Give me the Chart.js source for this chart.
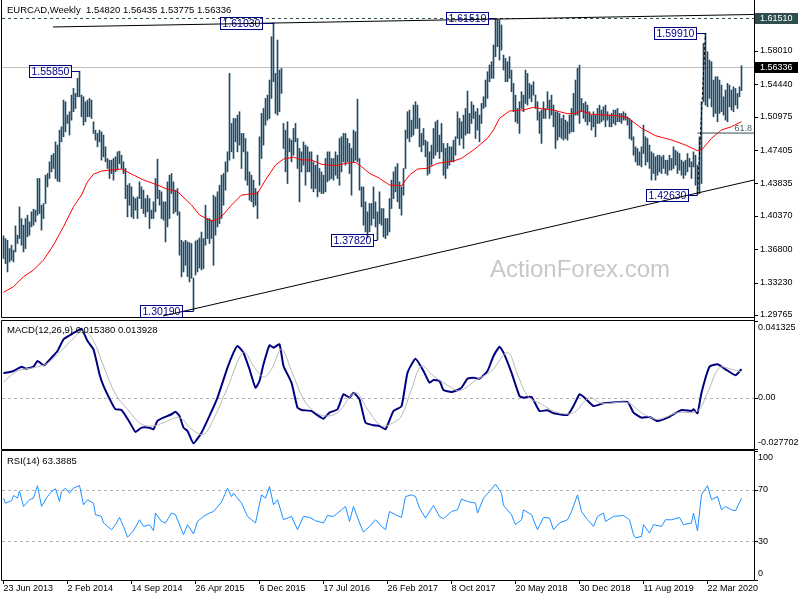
<!DOCTYPE html>
<html><head><meta charset="utf-8">
<script src="https://cdn.jsdelivr.net/npm/chart.js@4/dist/chart.umd.min.js"></script>
<style>
html,body{margin:0;padding:0;background:#fff;}
#wrap{position:relative;width:800px;height:600px;overflow:hidden;background:#fff;}
canvas{position:absolute;left:0;}
</style></head><body>
<div id="wrap">
<canvas id="cMain" width="800" height="320" style="top:0px;width:800px;height:320px"></canvas>
<canvas id="cMacd" width="800" height="133" style="top:318px;width:800px;height:133px"></canvas>
<canvas id="cRsi" width="800" height="150" style="top:450px;width:800px;height:150px"></canvas>
</div>
<script>
// ---------------- DATA ----------------
const symbolTitle = 'EURCAD,Weekly';
const lastOHLC = [1.54820, 1.56435, 1.53775, 1.56336];
const periodHigh = 1.61510;
const firstWeek = 0;
const barHigh = [1.3823,1.3794,1.3776,1.3687,1.3723,1.3669,1.3930,1.3830,1.4133,1.4008,
1.3937,1.4008,1.4044,1.3973,1.4080,1.4108,1.4098,1.4437,1.4437,1.4151,
1.4169,1.4472,1.4490,1.4615,1.4686,1.4704,1.4829,1.4794,1.4954,1.4990,
1.5276,1.5258,1.5115,1.5151,1.5329,1.5401,1.5347,1.5508,1.5585,1.5329,
1.5311,1.5258,1.5276,1.5294,1.5276,1.5044,1.4954,1.4919,1.4954,1.4936,
1.4901,1.4776,1.4651,1.4633,1.4633,1.4651,1.4669,1.4722,1.4729,1.4686,
1.4615,1.4544,1.4365,1.4383,1.4347,1.4240,1.4222,1.4240,1.4401,1.4347,
1.4312,1.4222,1.4258,1.4222,1.4098,1.4187,1.4437,1.4644,1.4312,1.4294,
1.4187,1.4187,1.4401,1.4472,1.4490,1.4401,1.4312,1.4330,1.4080,1.3776,
1.3758,1.3776,1.3760,1.3750,1.3741,1.3372,1.3768,1.3779,1.3800,1.3864,
1.3794,1.4151,1.4008,1.4008,1.3991,1.4258,1.4240,1.4294,1.4365,1.4472,
1.4490,1.4615,1.4722,1.5561,1.5026,1.5079,1.5079,1.5115,1.5151,1.4919,
1.4919,1.4865,1.4722,1.4508,1.4472,1.4419,1.4330,1.4294,1.4883,1.5133,
1.5186,1.5294,1.5329,1.5490,1.5954,1.6103,1.5561,1.5918,1.5597,1.5615,
1.5026,1.4954,1.5044,1.4865,1.4847,1.4972,1.5026,1.4865,1.4758,1.4722,
1.4829,1.4794,1.4776,1.4722,1.4722,1.4615,1.4579,1.4686,1.4544,1.4508,
1.4472,1.4651,1.4722,1.4722,1.4651,1.4651,1.4722,1.4686,1.4865,1.4883,
1.4919,1.4919,1.4865,1.4812,1.4758,1.4954,1.4936,1.5286,1.4651,1.4347,
1.4347,1.4187,1.4080,1.4169,1.4169,1.4347,1.4187,1.4080,1.4294,1.4115,
1.4115,1.4008,1.4008,1.4222,1.4419,1.4508,1.4561,1.4597,1.4401,1.4347,
1.4544,1.4954,1.5151,1.5169,1.5061,1.5222,1.5258,1.5222,1.5079,1.4919,
1.4972,1.4847,1.4829,1.4722,1.4794,1.4972,1.5044,1.5061,1.4901,1.5026,
1.4812,1.4758,1.4812,1.4776,1.4776,1.4847,1.4883,1.5151,1.5079,1.5044,
1.5115,1.5186,1.5372,1.5133,1.5258,1.5222,1.5151,1.5186,1.5115,1.5240,
1.5311,1.5490,1.5579,1.5651,1.5686,1.5865,1.6151,1.6140,1.6133,1.6079,
1.5758,1.5722,1.5686,1.5740,1.5597,1.5454,1.5329,1.5186,1.5258,1.5365,
1.5329,1.5597,1.5561,1.5454,1.5436,1.5472,1.5329,1.5258,1.5151,1.5169,
1.5258,1.5186,1.5365,1.5276,1.5329,1.5222,1.5151,1.5151,1.5133,1.5079,
1.5115,1.5061,1.5044,1.5115,1.5186,1.5347,1.5490,1.5615,1.5650,1.5294,
1.5240,1.5258,1.5222,1.5151,1.5115,1.5151,1.5115,1.5186,1.5222,1.5169,
1.5204,1.5222,1.5151,1.5115,1.5133,1.5169,1.5169,1.5186,1.5133,1.5133,
1.5151,1.5133,1.5097,1.5079,1.5061,1.4883,1.4776,1.4758,1.4722,1.4776,
1.5008,1.4883,1.4865,1.4794,1.4722,1.4704,1.4669,1.4686,1.4686,1.4669,
1.4686,1.4633,1.4633,1.4686,1.4651,1.4776,1.4740,1.4722,1.4704,1.4633,
1.4615,1.4633,1.4704,1.4651,1.4615,1.4722,1.4686,1.4579,1.4883,1.5258,
1.5883,1.5991,1.5793,1.5704,1.5686,1.5490,1.5526,1.5526,1.5490,1.5436,
1.5311,1.5383,1.5454,1.5436,1.5383,1.5418,1.5401,1.5347,1.5418,1.56435];
const barLow = [1.3580,1.3526,1.3437,1.3544,1.3562,1.3544,1.3651,1.3741,1.3794,1.3723,
1.3651,1.3687,1.3812,1.3830,1.3919,1.3937,1.3973,1.4044,1.4062,1.3884,
1.4008,1.4169,1.4347,1.4437,1.4508,1.4544,1.4437,1.4408,1.4401,1.4829,
1.4883,1.4936,1.5026,1.4901,1.5061,1.5151,1.5186,1.5311,1.5311,1.5097,
1.5008,1.5044,1.5097,1.5097,1.5079,1.4919,1.4847,1.4776,1.4829,1.4633,
1.4669,1.4615,1.4544,1.4437,1.4490,1.4419,1.4508,1.4526,1.4597,1.4544,
1.4490,1.4222,1.4026,1.4151,1.4026,1.4008,1.4098,1.4008,1.4222,1.4115,
1.4062,1.4026,1.4080,1.3901,1.4008,1.4008,1.4080,1.4222,1.4151,1.4008,
1.3991,1.3758,1.3919,1.4008,1.4276,1.4062,1.4080,1.4044,1.3616,1.3384,
1.3437,1.3508,1.3386,1.3330,1.3370,1.3019,1.3404,1.3437,1.3479,1.3458,
1.3473,1.3723,1.3794,1.3741,1.3794,1.3508,1.3830,1.3919,1.3955,1.4008,
1.4151,1.4312,1.4508,1.4633,1.4722,1.4651,1.4829,1.4722,1.4794,1.4544,
1.4722,1.4419,1.4365,1.4205,1.4187,1.4133,1.4151,1.4008,1.4365,1.4651,
1.4794,1.5008,1.5061,1.5079,1.5294,1.5472,1.5133,1.5115,1.5151,1.5347,
1.4758,1.4508,1.4383,1.4722,1.4615,1.4686,1.4829,1.4544,1.4187,1.4508,
1.4579,1.4365,1.4508,1.4508,1.4330,1.4294,1.4330,1.4240,1.4294,1.4276,
1.4276,1.4294,1.4401,1.4419,1.4437,1.4419,1.4472,1.4437,1.4365,1.4508,
1.4615,1.4579,1.4615,1.4490,1.4258,1.4615,1.4633,1.4615,1.4312,1.4133,
1.3937,1.3866,1.3800,1.3866,1.3937,1.4008,1.3919,1.3782,1.3955,1.3937,
1.3812,1.3794,1.3830,1.3866,1.4115,1.4222,1.4294,1.4187,1.4115,1.4044,
1.4258,1.4544,1.4865,1.4829,1.4883,1.4901,1.4972,1.4972,1.4776,1.4722,
1.4794,1.4669,1.4472,1.4490,1.4579,1.4651,1.4686,1.4722,1.4651,1.4722,
1.4472,1.4437,1.4544,1.4579,1.4615,1.4615,1.4686,1.4865,1.4794,1.4865,
1.4758,1.4901,1.4919,1.4919,1.5026,1.5079,1.4865,1.4954,1.4829,1.5026,
1.5186,1.5204,1.5294,1.5472,1.5508,1.5508,1.5740,1.5847,1.5704,1.5811,
1.5597,1.5472,1.5472,1.5508,1.5365,1.5151,1.5044,1.5026,1.4919,1.5186,
1.5151,1.5240,1.5222,1.5294,1.5258,1.5329,1.5186,1.5061,1.4919,1.4812,
1.5079,1.5079,1.5186,1.5079,1.5115,1.4990,1.4758,1.4847,1.4883,1.4865,
1.4847,1.4865,1.4847,1.4919,1.4936,1.4936,1.5115,1.5115,1.5026,1.5151,
1.5079,1.5044,1.5008,1.5044,1.4954,1.4990,1.4883,1.5026,1.5026,1.5044,
1.5061,1.4990,1.5061,1.4990,1.4990,1.5026,1.5008,1.5044,1.5044,1.5026,
1.5061,1.5061,1.5008,1.4865,1.4847,1.4686,1.4615,1.4579,1.4579,1.4561,
1.4704,1.4579,1.4615,1.4544,1.4419,1.4490,1.4419,1.4472,1.4508,1.4490,
1.4544,1.4490,1.4472,1.4526,1.4526,1.4544,1.4579,1.4490,1.4526,1.4472,
1.4437,1.4472,1.4508,1.4561,1.4437,1.4561,1.4365,1.4263,1.4276,1.4383,
1.5258,1.5222,1.5204,1.5294,1.5204,1.5097,1.5133,1.5044,1.5133,1.5151,
1.5115,1.5061,1.5044,1.5204,1.5169,1.5151,1.5222,1.5186,1.5311,1.53775];

const maWeek = [0,5,10,15,20,25,30,35,39,42,45,49,54,59,60,65,70,77,82,87,94,98,103,105,109,114,119,127,131,136,140,145,149,154,159,166,171,176,179,183,188,193,199,203,207,212,217,225,229,235,237,242,245,248,253,260,265,270,275,278,282,286,289,294,301,307,312,319,326,334,341,347,349,354,359,364,369];
const maValue = [1.3219,1.3279,1.3386,1.3458,1.3565,1.3725,1.3921,1.4135,1.4260,1.4403,1.4482,1.4517,1.4528,1.4538,1.4528,1.4474,1.4421,1.4367,1.4321,1.4296,1.4153,1.4046,1.3993,1.3982,1.4028,1.4153,1.4260,1.4278,1.4421,1.4581,1.4645,1.4664,1.4635,1.4635,1.4589,1.4574,1.4599,1.4610,1.4563,1.4492,1.4439,1.4367,1.4360,1.4474,1.4538,1.4546,1.4599,1.4624,1.4653,1.4742,1.4777,1.4867,1.4956,1.5081,1.5159,1.5170,1.5199,1.5180,1.5170,1.5152,1.5130,1.5134,1.5159,1.5124,1.5116,1.5109,1.5087,1.4974,1.4895,1.4849,1.4795,1.4734,1.4742,1.4867,1.4956,1.4991,1.5045];

const macdParams = '12,26,9';
const macdLast = [0.015380, 0.013928];
const macdWeek = [0,5,9,11,15,17,20,21,24,27,30,34,36,39,42,45,48,50,54,56,59,63,66,69,73,75,77,80,84,86,88,90,92,95,99,103,107,112,115,117,120,123,126,128,130,133,135,138,140,144,147,149,154,157,160,163,167,170,173,175,178,181,185,188,191,195,199,202,206,210,213,215,218,220,224,227,229,232,235,238,242,245,248,250,254,258,260,264,268,272,275,282,285,288,290,295,300,312,315,319,323,327,332,339,344,345,347,349,353,357,361,366,369];
const macdValue = [0.01313,0.01437,0.01669,0.01561,0.01669,0.01976,0.01745,0.01799,0.02154,0.02515,0.03146,0.03416,0.03540,0.03718,0.03055,0.02607,0.01260,0.00629,-0.00271,-0.00627,-0.00665,-0.01311,-0.01850,-0.01619,-0.01619,-0.01705,-0.01258,-0.01080,-0.00896,-0.00756,-0.00988,-0.01619,-0.01797,-0.02460,-0.01888,-0.00988,0.00000,0.01615,0.02424,0.02785,0.02424,0.01529,0.00537,0.00898,0.01799,0.02823,0.02693,0.02877,0.01707,0.00807,-0.00541,-0.00665,-0.00719,-0.00950,-0.01134,-0.00810,-0.00627,0.00182,0.00000,0.00268,-0.00088,-0.01349,-0.01489,-0.01527,-0.01705,-0.00719,-0.00465,0.01346,0.02100,0.01437,0.00807,0.00952,0.00898,0.00413,0.00305,0.00413,0.00537,0.01022,0.01076,0.01022,0.01437,0.02246,0.02747,0.02424,0.01346,0.00090,0.00000,0.00036,-0.00719,-0.00681,-0.00843,-0.00934,-0.00449,0.00182,0.00052,-0.00449,-0.00304,-0.00234,-0.00810,-0.01080,-0.01042,-0.01258,-0.01080,-0.00665,-0.00719,-0.00627,-0.00843,0.00268,0.01669,0.01799,0.01529,0.01206,0.01538];
const signalWeek = [0,7,15,22,32,40,45,50,56,62,69,75,80,88,94,100,105,112,120,125,130,134,139,144,150,155,161,167,176,182,189,195,199,204,209,215,224,228,237,244,252,257,262,269,277,285,293,299,312,319,327,337,347,352,358,364,369];
const signalValue = [0.00845,0.01437,0.01615,0.01853,0.02877,0.03594,0.03055,0.01707,0.00182,-0.00627,-0.01435,-0.01527,-0.01349,-0.01080,-0.01705,-0.01974,-0.01166,0.00537,0.02462,0.01707,0.01114,0.01529,0.02607,0.01437,-0.00088,-0.00719,-0.00988,-0.00810,0.00268,-0.00627,-0.01527,-0.01349,-0.00988,0.00451,0.01707,0.01168,0.00537,0.00360,0.00990,0.01437,0.02424,0.01260,0.00090,-0.00357,-0.00810,-0.00810,0.00000,-0.00304,-0.00271,-0.00810,-0.01166,-0.00810,-0.00719,0.00268,0.01615,0.01529,0.01393];

const rsiPeriod = 14;
const rsiLast = 63.3885;
const rsiWeek = [0,1,4,5,7,8,10,13,15,17,19,22,24,26,28,29,31,33,35,38,40,42,45,46,49,50,54,56,58,60,62,65,68,70,73,75,76,79,81,84,86,90,92,95,97,100,103,105,109,112,114,115,119,122,126,129,131,133,135,137,140,144,147,150,153,156,160,162,165,169,171,173,175,178,180,183,186,189,191,193,196,199,201,204,206,208,211,215,218,220,224,227,229,232,236,237,240,243,246,249,250,254,256,259,260,264,267,270,273,275,278,282,284,287,289,292,294,295,297,300,301,305,310,313,315,316,319,320,323,325,329,331,334,338,340,344,345,347,349,352,354,357,359,361,364,366,369];
const rsiValue = [63.5,59.6,61.4,65.5,63.5,69.1,57.0,62.2,63.5,73.2,57.0,64.7,68.6,70.7,60.8,68.6,71.2,67.3,71.2,73.2,58.3,62.2,59.6,50.6,49.3,44.2,39.0,42.9,48.5,41.5,33.1,38.2,46.7,41.5,42.9,38.2,51.9,45.4,44.2,51.9,50.6,35.1,42.9,35.7,45.4,49.3,51.9,53.1,60.4,71.2,64.7,67.3,59.6,49.3,44.2,66.0,63.5,72.4,58.3,62.2,46.7,49.3,39.0,49.3,48.5,45.9,44.2,50.0,49.3,54.4,57.0,45.4,57.0,44.2,37.2,41.5,46.7,41.5,39.0,53.1,50.6,48.5,64.7,66.0,64.7,55.8,48.0,57.8,49.3,47.5,53.1,54.4,62.7,60.8,59.6,51.9,63.5,68.6,74.3,67.3,57.8,50.6,42.9,46.7,54.4,50.6,39.0,48.5,48.0,39.0,44.2,46.7,53.1,66.0,53.1,46.7,43.4,41.5,49.3,51.9,45.4,49.3,50.0,46.7,35.1,32.6,33.8,42.9,36.4,42.9,41.5,46.7,46.7,48.5,42.9,44.2,51.9,38.2,66.0,73.2,62.2,64.7,54.4,57.0,54.4,53.7,63.39];
const rsiLevels = [70, 30];

const dateWeek = [0,32,64,96,128,160,192,224,256,288,320,352];
const dateLabel = ['23 Jun 2013','2 Feb 2014','14 Sep 2014','26 Apr 2015','6 Dec 2015','17 Jul 2016','26 Feb 2017','8 Oct 2017','20 May 2018','30 Dec 2018','11 Aug 2019','22 Mar 2020'];
const priceTicks = [1.58010,1.54440,1.50975,1.47405,1.43835,1.40370,1.36800,1.33230,1.29765];
const macdTicks = [0.041325, 0, -0.027702];
const macdTickText = ['0.041325','0.00','-0.027702'];
const rsiTicks = [100, 70, 30, 0];

// swing labels
const markWeek  = [38, 135, 246, 351, 347, 187, 95];
const markPrice = [1.55850, 1.61030, 1.61510, 1.59910, 1.42630, 1.37820, 1.30190];
// trend lines
const resistWeek = [24.75, 375.25];  const resistPrice = [1.6058, 1.6192];
const supportWeek = [79.75, 375.25]; const supportPrice = [1.29655, 1.44207];
// fibonacci
const fibWeek = [347, 351]; const fibPrice = [1.42630, 1.59910]; const fibRatio = 61.8;

// axis ranges
const xMin = -0.75, xMax = 375.25;
const priceMin = 1.29548, priceMax = 1.63146;
const macdMin = -0.027702, macdMax = 0.041325;

// ---------------- STYLE / LAYOUT ----------------
const markGapPx = [9, 11.5, 8, 10, 10, 4.5, 12];   // pixel gap between label box and bar
const FONT = '"Liberation Sans", Arial, sans-serif';
Chart.defaults.font.family = FONT;

function pts(xs, ys){ return xs.map((w,k)=>({x:w, y:ys[k]})); }

function frame(chart, drawTop, rightFull){
  const {ctx, chartArea:a} = chart;
  const l = a.left - 0.5, r = a.right + 0.5, t = a.top - 0.5, b = a.bottom + 0.5;
  ctx.save(); ctx.strokeStyle = '#000'; ctx.lineWidth = 1; ctx.setLineDash([]);
  ctx.beginPath();
  ctx.moveTo(l, drawTop ? t : 0); ctx.lineTo(l, b); ctx.lineTo(r, b);
  ctx.moveTo(r, rightFull ? 0 : t); ctx.lineTo(r, rightFull ? chart.height : b);
  if (drawTop){ ctx.moveTo(l, t); ctx.lineTo(r, t); }
  ctx.stroke(); ctx.restore();
}
function axisLabels(chart, values, texts, clamp, textX){
  const {ctx, chartArea:a, scales:{y}} = chart;
  ctx.save();
  ctx.font = '9px ' + FONT; ctx.fillStyle = '#000'; ctx.textAlign = 'left'; ctx.textBaseline = 'middle';
  ctx.strokeStyle = '#000'; ctx.lineWidth = 1;
  values.forEach((v,k)=>{
    let py = y.getPixelForValue(v);
    const ty = Math.round(py) + 0.5;
    ctx.beginPath(); ctx.moveTo(a.right + 1, ty); ctx.lineTo(a.right + 4, ty); ctx.stroke();
    if (clamp) py = Math.min(Math.max(py, a.top + 7), a.bottom - 6);
    ctx.fillText(texts[k], textX, py);
  });
  ctx.restore();
}
function hLine(chart, value, color, dash){
  const {ctx, chartArea:a, scales:{y}} = chart;
  const py = Math.round(y.getPixelForValue(value)) + 0.5;
  ctx.save(); ctx.strokeStyle = color; ctx.lineWidth = 1; ctx.setLineDash(dash || []);
  ctx.beginPath(); ctx.moveTo(a.left, py); ctx.lineTo(a.right, py); ctx.stroke(); ctx.restore();
  return py;
}
function title(chart, txt, y){
  const ctx = chart.ctx;
  ctx.save(); ctx.font = '9.5px ' + FONT; ctx.fillStyle = '#000'; ctx.textAlign='left'; ctx.textBaseline='middle';
  ctx.fillText(txt, 7, y); ctx.restore();
}

const mainPlugin = {
  id: 'mainDeco',
  beforeDatasetsDraw(chart){
    const {ctx} = chart;
    ctx.save();
    ctx.font = '24px ' + FONT; ctx.fillStyle = '#c8c8c8'; ctx.textAlign = 'left'; ctx.textBaseline = 'alphabetic';
    ctx.fillText('ActionForex.com', 490, 277);
    ctx.restore();
    hLine(chart, lastOHLC[3], '#c0c0c0');
    hLine(chart, periodHigh, '#2f4f4f', [3,3]);
  },
  afterDatasetsDraw(chart){
    const {ctx, chartArea:a, scales:{x,y}} = chart;
    frame(chart, false, true);
    axisLabels(chart, priceTicks, priceTicks.map(v=>v.toFixed(5)), false, 760);
    [[periodHigh,'#2f4f4f'],[lastOHLC[3],'#000000']].forEach(([v,bg])=>{
      const py = Math.round(y.getPixelForValue(v));
      ctx.save(); ctx.fillStyle = bg; ctx.fillRect(a.right + 1, py - 5, 43, 11);
      ctx.font = '9px ' + FONT; ctx.fillStyle = '#fff'; ctx.textAlign='left'; ctx.textBaseline='middle';
      ctx.fillText(v.toFixed(5), 760, py + 0.5); ctx.restore();
    });
    ctx.save();
    ctx.font = '10.5px ' + FONT; ctx.textBaseline = 'middle'; ctx.textAlign = 'left';
    markPrice.forEach((p,k)=>{
      const bx = x.getPixelForValue(markWeek[k]);
      const py = Math.round(y.getPixelForValue(p)) + 0.5;
      const txt = p.toFixed(5);
      const w = Math.round(ctx.measureText(txt).width) + 4;
      const right = Math.round(bx - markGapPx[k]) + 0.5, left = right - w;
      ctx.strokeStyle = '#000080'; ctx.lineWidth = 1;
      ctx.strokeRect(left, py - 6, w, 12);
      ctx.beginPath(); ctx.moveTo(right, py); ctx.lineTo(bx, py); ctx.stroke();
      ctx.fillStyle = '#00008b';
      ctx.fillText(txt, left + 2, py + 0.5);
    });
    ctx.restore();
    const lvl = fibPrice[1] - fibRatio/100 * (fibPrice[1] - fibPrice[0]);
    ctx.save(); ctx.font = '9px ' + FONT; ctx.fillStyle = '#4a6262'; ctx.textAlign='right'; ctx.textBaseline='middle';
    ctx.fillText(fibRatio.toFixed(1), a.right - 2, y.getPixelForValue(lvl) - 5); ctx.restore();
    title(chart, symbolTitle + '  ' + lastOHLC.map(v=>v.toFixed(5)).join(' '), 10.5);
  }
};

const fibLevel = fibPrice[1] - fibRatio/100 * (fibPrice[1] - fibPrice[0]);
const lineDs = (data, color, width, extra) => Object.assign({type:'line', data, borderColor:color, borderWidth:width, pointRadius:0, fill:false, tension:0}, extra||{});

new Chart(document.getElementById('cMain'), {
  type: 'bar',
  data: { datasets: [
    {type:'bar', data: barHigh.map((h,i)=>({x:firstWeek+i, y:[barLow[i], h]})), backgroundColor:'#1f4b69', borderWidth:0, barThickness:1, order:5},
    lineDs(pts(maWeek, maValue), '#ff0000', 1, {order:2}),
    lineDs(pts(resistWeek, resistPrice), '#000000', 1, {order:1}),
    lineDs(pts(supportWeek, supportPrice), '#000000', 1, {order:1}),
    lineDs(pts(fibWeek, fibPrice), '#000000', 1, {order:1, borderDash:[3,2]}),
    lineDs([{x:fibWeek[0], y:fibLevel},{x:xMax, y:fibLevel}], '#2f4f4f', 1, {order:1})
  ]},
  options: {
    responsive:false, animation:false, devicePixelRatio:1,
    layout:{padding:{left:2, right:46, top:3, bottom:3}},
    plugins:{legend:{display:false}, tooltip:{enabled:false}},
    scales:{
      x:{type:'linear', min:xMin, max:xMax, display:false, offset:false},
      y:{type:'linear', min:priceMin, max:priceMax, display:false}
    }
  },
  plugins:[mainPlugin]
});

const macdPlugin = {
  id:'macdDeco',
  beforeDatasetsDraw(chart){ hLine(chart, 0, '#b4b4b4', [3,3]); },
  afterDatasetsDraw(chart){
    frame(chart, true, true);
    axisLabels(chart, macdTicks, macdTickText, true, 758);
    title(chart, 'MACD(' + macdParams + ') ' + macdLast[0].toFixed(6) + ' ' + macdLast[1].toFixed(6), 12);
  }
};
new Chart(document.getElementById('cMacd'), {
  type:'line',
  data:{datasets:[
    lineDs(pts(signalWeek, signalValue), '#b8b8b8', 1, {tension:0.35}),
    lineDs(pts(macdWeek, macdValue), '#000080', 2, {tension:0.15})
  ]},
  options:{
    responsive:false, animation:false, devicePixelRatio:1,
    layout:{padding:{left:2, right:46, top:3, bottom:2}},
    plugins:{legend:{display:false}, tooltip:{enabled:false}},
    scales:{
      x:{type:'linear', min:xMin, max:xMax, display:false},
      y:{type:'linear', min:macdMin, max:macdMax, display:false}
    }
  },
  plugins:[macdPlugin]
});

const rsiPlugin = {
  id:'rsiDeco',
  beforeDatasetsDraw(chart){ rsiLevels.forEach(v=>hLine(chart, v, '#b4b4b4', [3,3])); },
  afterDatasetsDraw(chart){
    const {ctx, chartArea:a, scales:{x}} = chart;
    frame(chart, true, false);
    axisLabels(chart, rsiTicks, rsiTicks.map(String), true, 758);
    title(chart, 'RSI(' + rsiPeriod + ') ' + rsiLast.toFixed(4), 11);
    ctx.save();
    ctx.font = '9px ' + FONT; ctx.fillStyle = '#000'; ctx.textAlign='left'; ctx.textBaseline='middle';
    ctx.strokeStyle = '#000'; ctx.lineWidth = 1;
    dateWeek.forEach((w,k)=>{
      const px = Math.round(x.getPixelForValue(w)) - 0.5;
      ctx.beginPath(); ctx.moveTo(px, a.bottom + 0.5); ctx.lineTo(px, a.bottom + 4); ctx.stroke();
      ctx.fillText(dateLabel[k], px, a.bottom + 8.5);
    });
    ctx.restore();
  }
};
new Chart(document.getElementById('cRsi'), {
  type:'line',
  data:{datasets:[ lineDs(pts(rsiWeek, rsiValue), '#1e90ff', 1) ]},
  options:{
    responsive:false, animation:false, devicePixelRatio:1,
    layout:{padding:{left:2, right:46, top:1, bottom:20}},
    plugins:{legend:{display:false}, tooltip:{enabled:false}},
    scales:{
      x:{type:'linear', min:xMin, max:xMax, display:false},
      y:{type:'linear', min:0, max:100, display:false}
    }
  },
  plugins:[rsiPlugin]
});
</script>
</body></html>
